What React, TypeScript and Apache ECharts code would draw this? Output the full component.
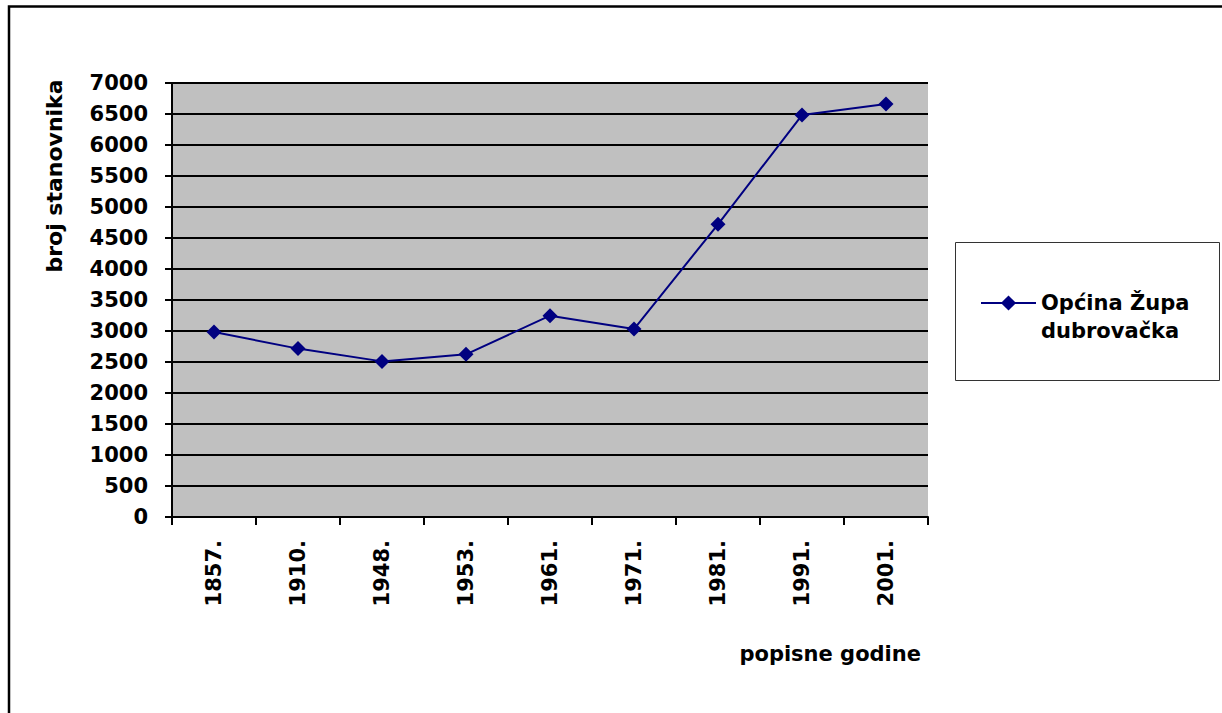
import React, { useEffect, useRef } from "react";
import * as echarts from "echarts";

const years = ["1857.", "1910.", "1948.", "1953.", "1961.", "1971.", "1981.", "1991.", "2001."];
const population = [2984, 2716, 2510, 2624, 3247, 3032, 4721, 6483, 6663];
const seriesName = "Općina Župa dubrovačka";
const legendLines = ["Općina Župa", "dubrovačka"];
const yTitle = "broj stanovnika";
const xTitle = "popisne godine";

const FONT = "DejaVu Sans";

export default function App() {
  const ref = useRef<HTMLDivElement>(null);
  useEffect(() => {
    if (!ref.current) return;
    const chart = echarts.init(ref.current, null, { renderer: "svg" });
    chart.setOption({
      animation: false,
      backgroundColor: "#ffffff",
      grid: {
        left: 172,
        right: 294,
        top: 83,
        bottom: 196,
        show: true,
        backgroundColor: "#c0c0c0",
        borderWidth: 0,
      },
      xAxis: {
        type: "category",
        data: years,
        boundaryGap: true,
        axisLine: { show: true, lineStyle: { color: "#000", width: 2 } },
        axisTick: { show: true, length: 8, inside: false, lineStyle: { color: "#000", width: 2 } },
        axisLabel: {
          rotate: 90,
          margin: 23,
          color: "#000",
          fontFamily: FONT,
          fontWeight: "bold",
          fontSize: 21,
          interval: 0,
        },
        splitLine: { show: false },
      },
      yAxis: {
        type: "value",
        min: 0,
        max: 7000,
        interval: 500,
        axisLine: { show: true, lineStyle: { color: "#000", width: 2 } },
        axisTick: { show: true, length: 7, inside: false, lineStyle: { color: "#000", width: 2 } },
        axisLabel: {
          margin: 24,
          color: "#000",
          fontFamily: FONT,
          fontWeight: "bold",
          fontSize: 21,
          formatter: (v: number) => String(v),
        },
        splitLine: { show: true, lineStyle: { color: "#000", width: 2 } },
      },
      legend: {
        show: true,
        left: 975,
        top: 281.5,
        orient: "vertical",
        itemWidth: 55,
        itemHeight: 19,
        data: [{ name: seriesName }],
        formatter: () => legendLines[0],
        lineStyle: { width: 2 },
        textStyle: {
          color: "#000",
          fontFamily: FONT,
          fontWeight: "bold",
          fontSize: 21,
          lineHeight: 33,
        },
      },
      graphic: [
        {
          type: "rect",
          shape: { x: 9, y: 6.5, width: 1300, height: 800 },
          style: { fill: "none", stroke: "#000", lineWidth: 2.5 },
          silent: true,
          z: -10,
        },
        {
          type: "rect",
          shape: { x: 955.5, y: 242.5, width: 264, height: 138 },
          style: { fill: "#fff", stroke: "#333", lineWidth: 1 },
          silent: true,
          z: -5,
        },
        {
          type: "text",
          x: 1041,
          y: 331,
          style: {
            text: legendLines[1],
            fill: "#000",
            font: `bold 21px "${FONT}"`,
            textAlign: "left",
            textVerticalAlign: "middle",
          },
        },
        {
          type: "text",
          x: 54,
          y: 176,
          rotation: Math.PI / 2,
          style: {
            text: yTitle,
            fill: "#000",
            font: `bold 22px "${FONT}"`,
            textAlign: "center",
            textVerticalAlign: "middle",
          },
        },
        {
          type: "text",
          x: 921,
          y: 654,
          style: {
            text: xTitle,
            fill: "#000",
            font: `bold 21px "${FONT}"`,
            textAlign: "right",
            textVerticalAlign: "middle",
          },
        },
      ],
      series: [
        {
          name: seriesName,
          type: "line",
          data: population,
          symbol: "diamond",
          symbolSize: 15,
          color: "#000080",
          lineStyle: { color: "#000080", width: 2 },
          itemStyle: { color: "#000080" },
        },
      ],
    });
    return () => chart.dispose();
  }, []);
  return (
    <div
      ref={ref}
      style={{ position: "fixed", left: 0, top: 0, width: 1222, height: 713 }}
    />
  );
}
